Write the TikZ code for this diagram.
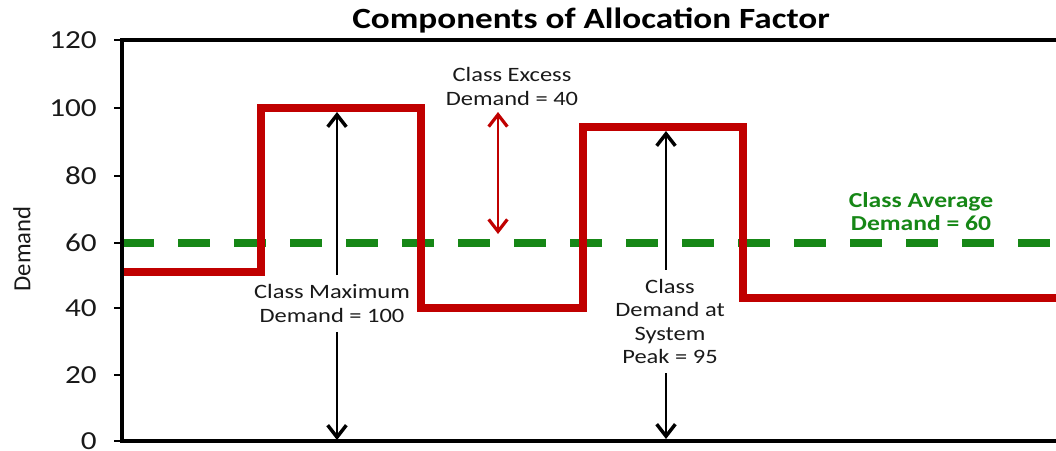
\documentclass[tikz,border=0pt]{standalone}
\usepackage{fontspec}
\setmainfont{Carlito}[FakeStretch=1.2]
\newfontfamily\plainfont{Carlito}
\usetikzlibrary{arrows.meta}
\definecolor{dred}{RGB}{192,0,0}
\definecolor{dgreen}{RGB}{22,135,22}
\definecolor{txt}{RGB}{25,25,25}
\begin{document}
\begin{tikzpicture}[x=0.75pt,y=-0.75pt,
  axisline/.style={line width=2.4pt,black},
  tickline/.style={line width=1.5pt,black},
  ticklbl/.style={anchor=east,inner sep=0pt,font=\fontsize{19.5}{22}\selectfont,text=txt},
  titlelbl/.style={anchor=base,inner sep=0pt,font=\fontsize{22}{24}\selectfont\bfseries,text=black},
  note/.style={align=center,inner xsep=2pt,inner ysep=7pt,font=\fontsize{15.3}{17.5}\selectfont,text=txt},
  greennote/.style={align=center,inner sep=0pt,font=\fontsize{16}{17.5}\selectfont\bfseries,text=dgreen},
  profile/.style={line width=6pt,dred,line join=miter},
  avgline/.style={line width=6pt,dgreen,dash pattern=on 24pt off 18pt},
  blackarrow/.style={line width=2.2pt,black,-{Straight Barb[length=9pt,width=14pt,line width=2.6pt]}},
  redarrow/.style={line width=2pt,dred,{Straight Barb[length=9pt,width=14pt,line width=2.4pt]}-{Straight Barb[length=9pt,width=14pt,line width=2.4pt]}}
]
\useasboundingbox (0,0) rectangle (1056,450);
% average line
\draw[avgline] (122,243) -- (1056,243);
% demand profile
\draw[profile] (122,272) -- (261,272) -- (261,108) -- (421,108) -- (421,308) -- (583,308) -- (583,127) -- (743,127) -- (743,298) -- (1056,298);
% axes
\draw[axisline] (122,441) -- (122,40) -- (1056,40);
\draw[axisline] (120,441) -- (1056,441);
% ticks and labels
\foreach \v/\yy in {0/441,20/375,40/308,60/243,80/176,100/108,120/40}{
  \draw[tickline] (114,\yy) -- (122,\yy);
  \node[ticklbl] (t\v) at (97,\yy) {\v};
}
\node[rotate=90,inner sep=0pt,font=\plainfont\fontsize{18.5}{20}\selectfont,text=txt] (ylabel) at (22,249) {Demand};
\node[titlelbl] (title) at (591,28) {Components of Allocation Factor};
% class maximum
\coordinate (maxtop) at (337,112);
\coordinate (maxbot) at (337,440);
\node[note] (maxlbl) at (332,303.5) {Class Maximum\\Demand = 100};
\draw[blackarrow] (maxlbl.north -| maxtop) -- (maxtop);
\draw[blackarrow] (maxlbl.south -| maxbot) -- (maxbot);
% class excess
\node[note,inner ysep=0pt] (exlbl) at (512,86.5) {Class Excess\\Demand = 40};
\coordinate (extop) at (498,112);
\coordinate (exbot) at (498,234);
\draw[redarrow] (exbot) -- (extop);
% class demand at system peak
\coordinate (pktop) at (666,131);
\coordinate (pkbot) at (666,439);
\node[note] (pklbl) at (670,321.5) {Class\\Demand at\\System\\Peak = 95};
\draw[blackarrow] (pklbl.north -| pktop) -- (pktop);
\draw[blackarrow] (pklbl.south -| pkbot) -- (pkbot);
% class average
\node[greennote] (avglbl) at (921,211.5) {Class Average\\Demand = 60};
\end{tikzpicture}
\end{document}
